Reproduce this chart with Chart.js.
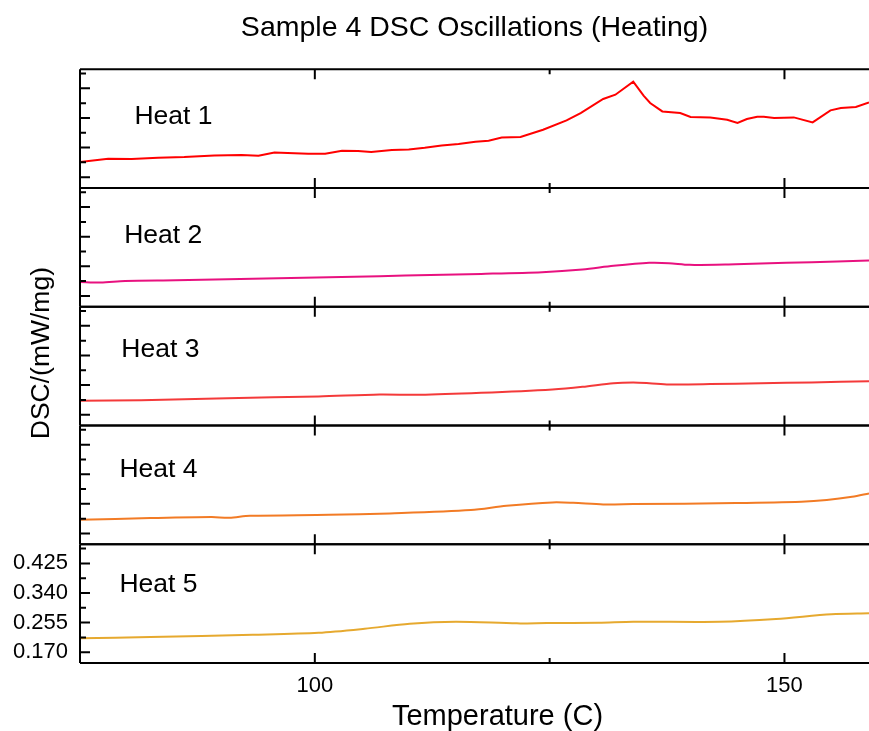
<!DOCTYPE html>
<html>
<head>
<meta charset="utf-8">
<title>Sample 4 DSC Oscillations (Heating)</title>
<script src="https://cdn.jsdelivr.net/npm/chart.js@4.4.0/dist/chart.umd.min.js"></script>
<style>
  html, body { margin: 0; padding: 0; background: #fff; }
  canvas { display: block; }
</style>
</head>
<body>
<canvas id="dsc" width="869" height="731"></canvas>
<script>
// ── DATA ──

const heatNames = ['Heat 1', 'Heat 2', 'Heat 3', 'Heat 4', 'Heat 5'];
const heatColors = ['#ff0000', '#e8117f', '#f43a3a', '#f27b25', '#e6a92f'];

const heat1Temp = [75.0, 78.0, 80.5, 83.3, 86.1, 89.3, 92.2, 94.0, 95.7, 97.1, 99.3, 101.1, 102.9, 104.6, 106.0, 108.2,
  110.0, 111.7, 113.5, 115.3, 117.1, 118.5, 119.9, 121.9, 124.3, 126.8, 128.3, 130.7, 132.0, 133.9, 135.0, 135.7,
  137.0, 138.9, 140.0, 142.1, 143.9, 145.0, 146.0, 147.1, 147.8, 148.9, 151.0, 153.0, 154.9, 156.0, 157.6, 159.0];
const heat1Dsc = [0.2135, 0.2230, 0.2221, 0.2258, 0.2278, 0.2324, 0.2336, 0.2316, 0.2411, 0.2393, 0.2373, 0.2373, 0.2459, 0.2451, 0.2422, 0.2480,
  0.2497, 0.2546, 0.2612, 0.2652, 0.2718, 0.2747, 0.2841, 0.2853, 0.3063, 0.3330, 0.3542, 0.3944, 0.4068, 0.4441, 0.4039, 0.3829,
  0.3588, 0.3542, 0.3427, 0.3416, 0.3350, 0.3255, 0.3370, 0.3436, 0.3436, 0.3399, 0.3416, 0.3272, 0.3617, 0.3686, 0.3714, 0.3847];

const heat2Temp = [75.0, 77.2, 79.8, 85.2, 90.7, 96.1, 101.5, 106.9, 112.3, 117.7, 124.2, 128.5, 131.8, 135.6, 137.7, 139.9, 144.8, 150.2, 155.6, 159.0];
const heat2Dsc = [0.2103, 0.2086, 0.2132, 0.2152, 0.2181, 0.2210, 0.2238, 0.2267, 0.2304, 0.2333, 0.2382, 0.2459, 0.2563, 0.2649, 0.2640, 0.2592, 0.2612, 0.2649, 0.2689, 0.2718];

const heat3Temp = [75.0, 81.5, 90.7, 100.4, 106.9, 111.2, 117.7, 125.3, 128.5, 131.8, 133.9, 135.6, 137.7, 142.1, 147.5, 152.9, 159.0];
const heat3Dsc = [0.2098, 0.2118, 0.2175, 0.2224, 0.2281, 0.2270, 0.2327, 0.2425, 0.2500, 0.2606, 0.2626, 0.2606, 0.2569, 0.2578, 0.2606, 0.2626, 0.2663];

const heat4Temp = [75.0, 82.5, 89.0, 90.9, 93.1, 101.5, 108.0, 116.6, 120.4, 125.3, 127.5, 130.7, 133.9, 144.8, 151.8, 154.5, 157.2, 159.0];
const heat4Dsc = [0.2092, 0.2141, 0.2170, 0.2150, 0.2207, 0.2235, 0.2276, 0.2370, 0.2494, 0.2592, 0.2580, 0.2534, 0.2543, 0.2571, 0.2609, 0.2658, 0.2752, 0.2850];

const heat5Temp = [75.0, 82.5, 93.4, 100.4, 105.3, 110.1, 115.0, 121.5, 124.7, 130.2, 133.9, 143.1, 149.1, 155.0, 159.0];
const heat5Dsc = [0.2098, 0.2135, 0.2201, 0.2258, 0.2373, 0.2517, 0.2574, 0.2528, 0.2537, 0.2546, 0.2574, 0.2574, 0.2652, 0.2787, 0.2816];

// eixos
const tempRange = [75, 159];
const dscRange = [0.139, 0.480];
const xMajor = [100, 150];
const xMinor = [125];
const yMajor = [0.170, 0.255, 0.340, 0.425];
const yMinor = [0.2125, 0.2975, 0.3825, 0.4675];

// posicao dos rotulos "Heat n" (temperatura, DSC da linha de base do texto)
const labelTemp = [80.8, 79.7, 79.4, 79.2, 79.2];
const labelDsc = [0.3235, 0.3223, 0.335, 0.331, 0.342];

// ── CHART ──

const FONT = "'Liberation Sans', Arial, sans-serif";
const series = [[heat1Temp, heat1Dsc], [heat2Temp, heat2Dsc], [heat3Temp, heat3Dsc], [heat4Temp, heat4Dsc], [heat5Temp, heat5Dsc]];
const panelIds = heatNames.map((_, i) => 'y' + (i + 1));

const datasets = series.map(([temps, vals], i) => ({
  label: heatNames[i],
  data: temps.map((x, k) => ({ x, y: vals[k] })),
  yAxisID: panelIds[i],
  borderColor: heatColors[i],
  borderWidth: 2,
  pointRadius: 0,
  fill: false,
  tension: i === 0 ? 0 : 0.3,
}));

const scales = {
  x: {
    type: 'linear',
    min: tempRange[0],
    max: tempRange[1],
    afterBuildTicks: s => { s.ticks = xMajor.map(v => ({ value: v })); },
    afterFit: s => { s.height = 68; },
    grid: { display: false, drawTicks: false },
    border: { display: false },
    ticks: { padding: 10, color: '#000', maxRotation: 0, autoSkip: false, font: { family: FONT, size: 22 } },
  },
};

panelIds.forEach((id, i) => {
  const last = i === panelIds.length - 1;
  scales[id] = {
    type: 'linear',
    position: 'left',
    stack: 'dsc',
    stackWeight: 1,
    weight: panelIds.length - i,
    min: dscRange[0],
    max: dscRange[1],
    afterBuildTicks: s => { s.ticks = yMajor.map(v => ({ value: v })); },
    afterFit: s => { s.width = 80; },
    grid: { display: false, drawTicks: false },
    border: { display: false },
    ticks: {
      display: last, padding: 12, color: '#000', autoSkip: false,
      font: { family: FONT, size: 22 },
      callback: v => Number(v).toFixed(3),
    },
  };
});

// molduras, ticks internos e rotulos de cada painel
const panelFrames = {
  id: 'panelFrames',
  afterDatasetsDraw(chart) {
    const { ctx, chartArea: area } = chart;
    const xs = chart.scales.x;
    ctx.save();
    ctx.strokeStyle = '#000';
    ctx.lineWidth = 2;

    panelIds.forEach((id, i) => {
      const ys = chart.scales[id];
      const top = ys.top;
      const bottom = ys.bottom;
      ctx.beginPath();
      ctx.moveTo(area.left, top); ctx.lineTo(area.right, top);
      ctx.moveTo(area.left, bottom); ctx.lineTo(area.right, bottom);
      ctx.moveTo(area.left, top); ctx.lineTo(area.left, bottom);

      yMajor.forEach(v => {
        const y = ys.getPixelForValue(v);
        ctx.moveTo(area.left, y); ctx.lineTo(area.left + 10, y);
      });
      yMinor.forEach(v => {
        const y = ys.getPixelForValue(v);
        ctx.moveTo(area.left, y); ctx.lineTo(area.left + 6, y);
      });
      xMajor.forEach(v => {
        const x = xs.getPixelForValue(v);
        ctx.moveTo(x, top); ctx.lineTo(x, top + 10);
        ctx.moveTo(x, bottom); ctx.lineTo(x, bottom - 10);
      });
      xMinor.forEach(v => {
        const x = xs.getPixelForValue(v);
        ctx.moveTo(x, top); ctx.lineTo(x, top + 5);
        ctx.moveTo(x, bottom); ctx.lineTo(x, bottom - 5);
      });
      ctx.stroke();

      ctx.fillStyle = '#000';
      ctx.font = `26.5px ${FONT}`;
      ctx.textAlign = 'left';
      ctx.textBaseline = 'alphabetic';
      ctx.fillText(heatNames[i], xs.getPixelForValue(labelTemp[i]), ys.getPixelForValue(labelDsc[i]));
    });

    // titulo do eixo x (um pouco a direita do centro, como no original)
    ctx.textAlign = 'center';
    ctx.textBaseline = 'alphabetic';
    ctx.font = `29px ${FONT}`;
    ctx.fillText('Temperature (C)', (area.left + area.right) / 2 + 23, xs.bottom - 6);

    // titulo do eixo y, comum aos cinco paineis
    ctx.translate(area.left - 38, (area.top + area.bottom) / 2 - 13);
    ctx.rotate(-Math.PI / 2);
    ctx.textBaseline = 'middle';
    ctx.font = `26.5px ${FONT}`;
    ctx.fillText('DSC/(mW/mg)', 0, 0);
    ctx.restore();
  },
};

new Chart(document.getElementById('dsc'), {
  type: 'line',
  data: { datasets },
  options: {
    responsive: false,
    devicePixelRatio: 1,
    animation: false,
    layout: { padding: 0 },
    plugins: {
      legend: { display: false },
      tooltip: { enabled: false },
      title: {
        display: true,
        fullSize: false,
        text: 'Sample 4 DSC Oscillations (Heating)',
        color: '#000',
        font: { family: FONT, size: 28.5, weight: 'normal' },
        padding: { top: 11, bottom: 24 },
      },
    },
    scales,
  },
  plugins: [panelFrames],
});
</script>
</body>
</html>
